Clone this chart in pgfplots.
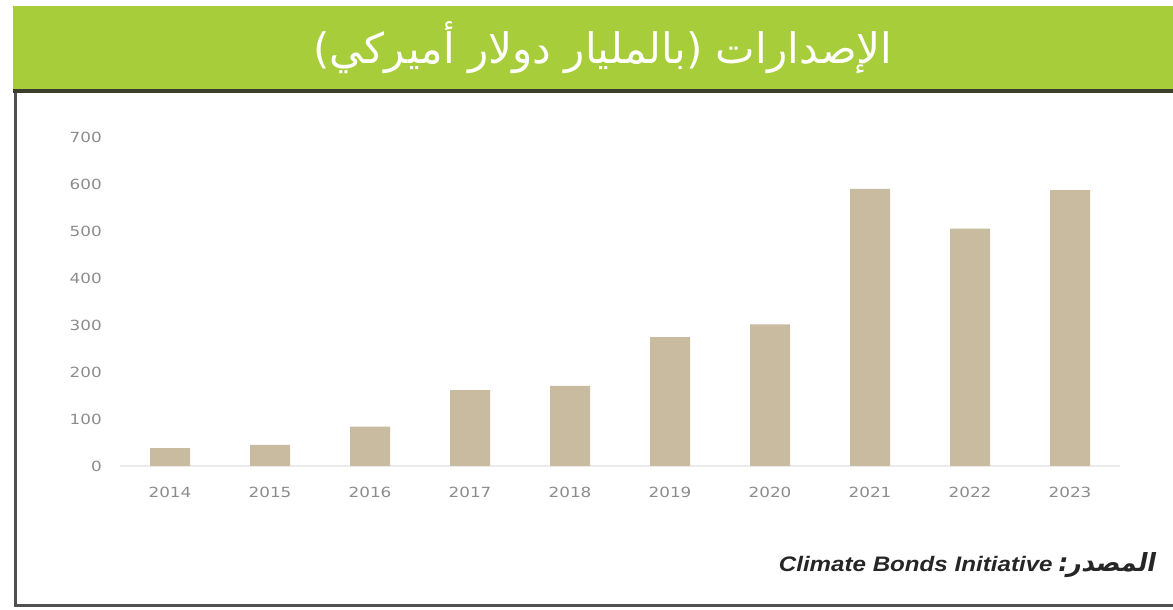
\documentclass[border=0pt]{standalone}
\usepackage{pgfplots}
\pgfplotsset{compat=1.18}
\usepackage{fontspec}
\setmainfont{DejaVu Sans}
\newfontfamily\arabicfont[Script=Arabic]{DejaVu Sans}
\newfontfamily\srcarabic[Script=Arabic,FakeSlant=0.2]{DejaVu Sans}
\newfontfamily\tickfont[FakeStretch=1.2]{DejaVu Sans}
\newfontfamily\srcfont[FakeStretch=1.15]{Liberation Sans}
\TeXXeTstate=1
\definecolor{hdrgreen}{RGB}{168,205,58}
\definecolor{hdrdark}{RGB}{60,62,45}
\definecolor{barcol}{RGB}{201,187,160}
\definecolor{ticktext}{RGB}{140,140,140}
\definecolor{framecol}{RGB}{80,80,80}
\begin{document}
\begin{tikzpicture}[x=1pt,y=1pt]
\useasboundingbox (0,0) rectangle (1173,610);
% header
\fill[hdrgreen] (13,520) rectangle (1173,604);
\fill[hdrdark] (13,517) rectangle (1173,520.5);
\node[text=white, font=\arabicfont\fontsize{42}{42}\selectfont] at (603,562) {\beginR الإصدارات (بالمليار دولار أميركي)\endR};
% frame
\draw[framecol, line width=3pt] (15,517) -- (15,4.5) -- (1173,4.5);
\begin{axis}[
  at={(120pt,144pt)}, anchor=south west,
  scale only axis, width=1000pt, height=328.3pt,
  xmin=-0.5, xmax=9.5, ymin=0, ymax=700,
  axis x line*=bottom, axis y line*=left,
  every outer x axis line/.append style={-, draw=black!8, line width=1.5pt},
  every outer y axis line/.append style={-, draw=none},
  x axis line style={-}, y axis line style={-},
  major tick length=0pt,
  xtick={0,1,2,3,4,5,6,7,8,9},
  xticklabels={2014,2015,2016,2017,2018,2019,2020,2021,2022,2023},
  ytick={0,100,200,300,400,500,600,700},
  /pgf/number format/assume math mode=true,
  tick label style={font=\tickfont\fontsize{14}{14}\selectfont, text=ticktext},
  xticklabel style={anchor=north, inner sep=0pt, yshift=-21pt},
  yticklabel style={anchor=east, inner sep=0pt, xshift=-18pt},
  clip=false,
]
\addplot[ybar, bar width=40pt, fill=barcol, draw=none] coordinates {
  (0,38) (1,45) (2,84) (3,162) (4,171) (5,275) (6,302) (7,591) (8,506) (9,588)
};
\end{axis}
% source
\node[anchor=east, text=black!85, inner sep=0pt] at (1155,45) {{\srcfont\fontsize{21}{21}\selectfont\bfseries\itshape Climate Bonds Initiative}\hspace{4pt}{\srcarabic\fontsize{25}{25}\selectfont\bfseries\beginR المصدر:\endR}};
\end{tikzpicture}
\end{document}
